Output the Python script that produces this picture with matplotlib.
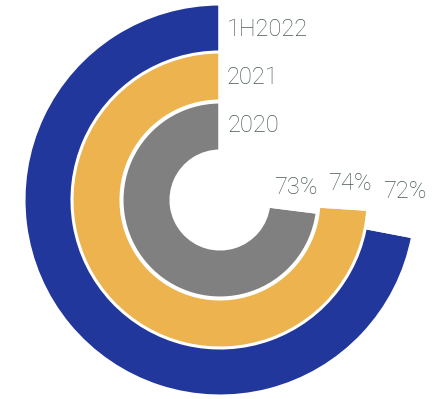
import matplotlib.pyplot as plt

# ring data, outer to inner
periods = ["1H2022", "2021", "2020"]
shares = [72, 74, 73]
colors = ["#22379b", "#ecb34f", "#808080"]

# ring geometry (pixel units on a 437x399 canvas)
cx, cy = 220, 199
outer_radii = [196, 148, 98]
ring_width = 49

label_pos = {  # year labels sit right of the ring start, percents above the ring ends
    "1H2022": (227, 369), "2021": (227, 321), "2020": (228, 273),
}
pct_pos = [(405, 207), (350, 216), (296, 212)]

text_color = "#4a5858"
font = dict(family="Roboto", fontweight="light", fontsize=17, color=text_color)

fig = plt.figure(figsize=(4.37, 3.99), dpi=100)
ax = fig.add_axes([0, 0, 1, 1])

for share, color, r in zip(shares, colors, outer_radii):
    ax.pie([share, 100 - share], radius=r, center=(cx, cy), startangle=90,
           counterclock=True, colors=[color, "none"],
           wedgeprops=dict(width=ring_width, edgecolor="white", linewidth=2.2))

for name in periods:
    x, y = label_pos[name]
    ax.text(x, y, name, ha="left", va="center", **font)

for share, (x, y) in zip(shares, pct_pos):
    ax.text(x, y, f"{share}%", ha="center", va="center", **font)

ax.set_xlim(0, 437)
ax.set_ylim(0, 399)
ax.set_aspect("equal")
ax.axis("off")

fig.savefig("out.png", dpi=100)
